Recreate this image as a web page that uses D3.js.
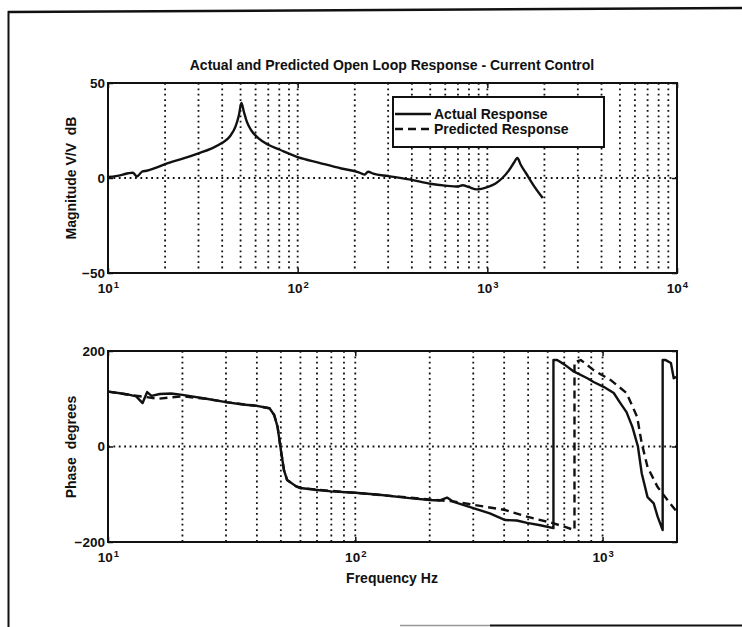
<html>
<head>
<meta charset="utf-8">
<script src="https://d3js.org/d3.v7.min.js"></script>
<style>
body{margin:0;background:#fff}
svg{display:block}
text{font-family:"Liberation Sans",Arial,sans-serif;font-weight:bold;fill:#111}
</style>
</head>
<body>
<script>
// magnitude, actual response (dB)
var magFreq=[10,11,12,12.8,13.5,14.2,15.2,16,18,20,25,30,35,40,44,47,49,50.5,52,54,57,62,70,80,100,130,170,210,225,235,250,300,400,500,600,700,740,800,880,1000,1100,1200,1300,1380,1440,1500,1600,1770,1960];
var magActual=[0.5,1,1.8,2.5,2.8,0.8,3.5,3.8,5.5,7.3,10.3,13,15.5,18.5,22,27,33,39.5,35,29.5,25,21,17.5,15,11,8,5,3,1.8,3.3,2.3,1,-1,-3,-4,-4.5,-3.8,-4.8,-6,-4.8,-3,0,4,8,10.5,7,2.5,-4.5,-10.5];

// phase, actual response (degrees)
var phaseFreq=[10,11,12,13,13.8,14.4,15,16.2,18,20,25,30,35,40,45,47,48.5,50,51.5,53,57.5,60,70,80,100,125,166,200,220,235,250,300,350,404,450,495,560,633,633,655,700,760,868,920,1010,1110,1180,1250,1320,1390,1440,1520,1610,1670,1750,1750,1800,1890,1940,2000];
var phaseActual=[115,112,109,105,91,114,106,110,111,108,100,93,88,85,80,66,41,-7,-50,-70,-83,-87,-91,-94,-97,-101,-108,-112,-113,-107,-116,-129,-140,-154,-155,-160,-165,-171,181,181,172,158,143,135,125,112,91,72,41,0,-56,-106,-119,-147,-175,181,181,175,143,146];

// phase, predicted response (degrees)
var predFreq=[10,12,14,16,18,20,25,30,40,45,47,48.5,50,51.5,53,57.5,60,80,100,150,200,250,300,404,495,625,700,770,770,817,920,1080,1250,1380,1440,1520,1670,1830,1970,2000];
var phasePred=[115,109,104,100,103,105,100,93,85,80,66,41,-7,-50,-70,-83,-87,-93,-97,-105,-111,-115,-122,-133,-147,-160,-168,-175,177,181,160,139,112,62,7,-43,-85,-112,-133,-140];

var magXTicks=[10,100,1000,10000];
var phaseXTicks=[10,100,1000];
var magYTicks=[-50,0,50];
var phaseYTicks=[-200,0,200];
var legendNames=["Actual Response","Predicted Response"];

var width=742, height=627;
var left=108, right=677;

var svg=d3.select("body").append("svg")
  .attr("width",width)
  .attr("height",height);

// scanned page frame
svg.append("line").attr("x1",8).attr("y1",12).attr("x2",742).attr("y2",8)
  .attr("stroke","#111").attr("stroke-width",2.5);
svg.append("line").attr("x1",8.5).attr("y1",11).attr("x2",8.5).attr("y2",627)
  .attr("stroke","#111").attr("stroke-width",2);
svg.append("line").attr("x1",400).attr("y1",625.5).attr("x2",490).attr("y2",625.5)
  .attr("stroke","#999").attr("stroke-width",1.5);
svg.append("line").attr("x1",490).attr("y1",625.5).attr("x2",742).attr("y2",625.5)
  .attr("stroke","#111").attr("stroke-width",2);

var xMag=d3.scaleLog().domain([10,10000]).range([left,right]);
var yMag=d3.scaleLinear().domain([-50,50]).range([273,83]);
var xPh=d3.scaleLog().domain([10,2000]).range([left,right]);
var yPh=d3.scaleLinear().domain([-200,200]).range([542,351]);

function panel(x,y,xt,yt,id){
  var g=svg.append("g");
  var x0=x.range()[0], x1=x.range()[1], y0=y.range()[1], y1=y.range()[0];
  g.append("clipPath").attr("id",id).append("rect")
    .attr("x",x0).attr("y",y0).attr("width",x1-x0).attr("height",y1-y0);

  // dotted grid
  var gx=x.ticks().filter(function(d){return d>x.domain()[0]*1.001 && d<x.domain()[1]*0.999});
  g.selectAll(".gx").data(gx).enter().append("line")
    .attr("x1",function(d){return x(d)}).attr("x2",function(d){return x(d)})
    .attr("y1",y0).attr("y2",y1)
    .attr("stroke","#111").attr("stroke-width",1.8).attr("stroke-dasharray","1.8,3.6");
  g.append("line").attr("x1",x0).attr("x2",x1).attr("y1",y(0)).attr("y2",y(0))
    .attr("stroke","#111").attr("stroke-width",1.8).attr("stroke-dasharray","1.8,3.6");

  // axes
  var bottom=g.append("g").attr("transform","translate(0,"+y1+")")
    .call(d3.axisBottom(x).tickValues(xt).tickSize(-5).tickPadding(10).tickFormat(function(){return ""}));
  g.append("g").attr("transform","translate(0,"+y0+")")
    .call(d3.axisTop(x).tickValues(xt).tickSize(-5).tickFormat(function(){return ""}));
  g.append("g").attr("transform","translate("+x0+",0)")
    .call(d3.axisLeft(y).tickValues(yt).tickSize(-5).tickPadding(3));
  g.append("g").attr("transform","translate("+x1+",0)")
    .call(d3.axisRight(y).tickValues(yt).tickSize(-5).tickFormat(function(){return ""}));
  g.selectAll(".domain").remove();
  g.selectAll(".tick line").attr("stroke","#111").attr("stroke-width",1.5);
  g.selectAll(".tick text").style("font-size","13.5px").attr("fill","#111");

  bottom.selectAll(".tick text").each(function(d){
    var t=d3.select(this);
    t.append("tspan").text("10");
    t.append("tspan").attr("dy","-0.45em").attr("dx","1").style("font-size","9.5px")
      .text(Math.round(Math.log10(d)));
  });

  g.append("rect").attr("x",x0).attr("y",y0).attr("width",x1-x0).attr("height",y1-y0)
    .attr("fill","none").attr("stroke","#111").attr("stroke-width",2);
  return g;
}

var magPanel=panel(xMag,yMag,magXTicks,magYTicks,"clipMag");
var phPanel=panel(xPh,yPh,phaseXTicks,phaseYTicks,"clipPh");

var magLine=d3.line().curve(d3.curveMonotoneX)
  .x(function(d){return xMag(d[0])}).y(function(d){return yMag(d[1])});
var phLine=d3.line().x(function(d){return xPh(d[0])}).y(function(d){return yPh(d[1])});

magPanel.append("path").datum(d3.zip(magFreq,magActual))
  .attr("d",magLine).attr("clip-path","url(#clipMag)")
  .attr("fill","none").attr("stroke","#111").attr("stroke-width",2.4).attr("stroke-linejoin","round");

phPanel.append("path").datum(d3.zip(predFreq,phasePred))
  .attr("d",phLine).attr("clip-path","url(#clipPh)")
  .attr("fill","none").attr("stroke","#111").attr("stroke-width",2.4).attr("stroke-dasharray","8,5");
phPanel.append("path").datum(d3.zip(phaseFreq,phaseActual))
  .attr("d",phLine).attr("clip-path","url(#clipPh)")
  .attr("fill","none").attr("stroke","#111").attr("stroke-width",2.4).attr("stroke-linejoin","round");

// legend
var lg=svg.append("g");
lg.append("rect").attr("x",393).attr("y",97).attr("width",211).attr("height",50)
  .attr("fill","#fff").attr("stroke","#111").attr("stroke-width",2);
lg.selectAll(".ls").data(legendNames).enter().append("line")
  .attr("x1",395).attr("x2",431)
  .attr("y1",function(d,i){return 114+i*15}).attr("y2",function(d,i){return 114+i*15})
  .attr("stroke","#111").attr("stroke-width",2.4)
  .attr("stroke-dasharray",function(d,i){return i?"8,5":null});
lg.selectAll(".lt").data(legendNames).enter().append("text")
  .attr("x",434).attr("y",function(d,i){return 119+i*15})
  .style("font-size","14px").text(function(d){return d});

// titles
svg.append("text").attr("x",392).attr("y",70).attr("text-anchor","middle")
  .style("font-size","14px").text("Actual and Predicted Open Loop Response - Current Control");
svg.append("text").attr("transform","translate(76,178) rotate(-90)").attr("text-anchor","middle")
  .style("font-size","14px").style("white-space","pre").text("Magnitude V/V  dB");
svg.append("text").attr("transform","translate(76,447) rotate(-90)").attr("text-anchor","middle")
  .style("font-size","14px").style("white-space","pre").text("Phase  degrees");
svg.append("text").attr("x",392).attr("y",583).attr("text-anchor","middle")
  .style("font-size","14px").text("Frequency Hz");
</script>
</body>
</html>
